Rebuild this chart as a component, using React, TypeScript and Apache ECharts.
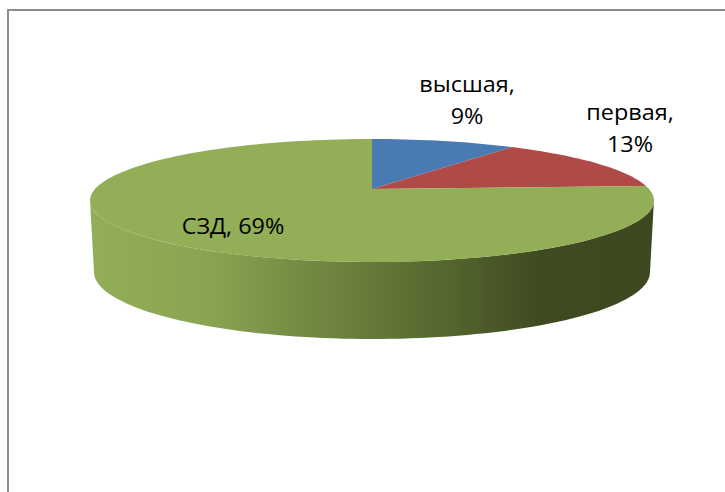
import React, { useEffect, useRef } from "react";
import * as echarts from "echarts";

const categories = ["высшая", "первая", "СЗД"];
const percents = [9, 13, 69];
const sliceColors = ["#4a7ab3", "#af4a47", "#92ae57"];
const labelLines = ["высшая,\n9%", "первая,\n13%", "СЗД, 69%"];

const VIEW = { w: 725, h: 492 };
const PIE = { cx: 372, cy: 189, ax: 277, ay: 59.35, k: 0.187, steps: 180 };
const SIDE = { cy: 272, rx: 278, ry: 67 };
const LABEL_CENTERS = [[467, 100], [630, 128], [233, 226]];

const project = (deg: number): number[] => {
  const t = (deg * Math.PI) / 180;
  const u = Math.sin(t);
  const v = Math.cos(t);
  const d = 1 + PIE.k * v;
  return [PIE.cx + (PIE.ax * u) / d, PIE.cy - (PIE.ay * v) / d];
};

const total = percents.reduce((a, b) => a + b, 0);

const renderSlice = (params: any, api: any) => {
  const i = params.dataIndex;
  const before = percents.slice(0, i).reduce((a, b) => a + b, 0);
  const start = (before / total) * 360;
  const end = ((before + api.value(0)) / total) * 360;
  const pts: number[][] = [[PIE.cx, PIE.cy]];
  const n = Math.max(4, Math.round(((end - start) / 360) * PIE.steps));
  for (let s = 0; s <= n; s++) pts.push(project(start + ((end - start) * s) / n));

  const children: any[] = [];
  const a0 = Math.max(start, 100.8);
  const a1 = Math.min(end, 259.2);
  if (a1 > a0) {
    // visible wall: front half of the rim, from right extreme round to left extreme
    const wall: number[][] = [];
    const rim = 90;
    for (let s = 0; s <= rim; s++) wall.push(project(a0 + ((a1 - a0) * s) / rim));
    for (let s = rim; s >= 0; s--) {
      const t = (s / rim) * Math.PI;
      wall.push([PIE.cx + SIDE.rx * Math.cos(t), SIDE.cy + SIDE.ry * Math.sin(t)]);
    }
    children.push({
      type: "polygon",
      shape: { points: wall },
      style: {
        fill: new echarts.graphic.LinearGradient(0, 0, 1, 0, [
          { offset: 0, color: "#92ae57" },
          { offset: 0.2, color: "#8aa552" },
          { offset: 0.42, color: "#6f8540" },
          { offset: 0.62, color: "#56682f" },
          { offset: 0.8, color: "#404a21" },
          { offset: 1, color: "#3e4820" },
        ]),
      },
    });
  }
  children.push({
    type: "polygon",
    shape: { points: pts },
    style: { fill: sliceColors[i] },
  });
  children.push({
    type: "text",
    z2: 10,
    x: LABEL_CENTERS[i][0],
    y: LABEL_CENTERS[i][1],
    scaleX: 1.09,
    style: {
      x: 0,
      y: 0,
      text: labelLines[i],
      fill: "#000",
      font: '21.5px "Open Sans", sans-serif',
      lineHeight: 32,
      align: "center",
      verticalAlign: "middle",
    },
  });
  return { type: "group", children };
};

export default function App() {
  const ref = useRef<HTMLDivElement>(null);
  useEffect(() => {
    const chart = echarts.init(ref.current!, undefined, { renderer: "svg" });
    chart.setOption({
      animation: false,
      backgroundColor: "#fff",
      graphic: [
        {
          type: "polyline",
          shape: { points: [[8, VIEW.h], [8, 10], [VIEW.w, 10]] },
          style: { stroke: "#8c8c8c", lineWidth: 2, fill: "none" },
        },
      ],
      series: [
        {
          type: "custom",
          coordinateSystem: "none",
          renderItem: renderSlice,
          data: percents.map((v, i) => ({ name: categories[i], value: [v] })),
        },
      ],
    });
    return () => chart.dispose();
  }, []);
  return (
    <div
      ref={ref}
      style={{ position: "fixed", left: 0, top: 0, width: VIEW.w, height: VIEW.h }}
    />
  );
}
